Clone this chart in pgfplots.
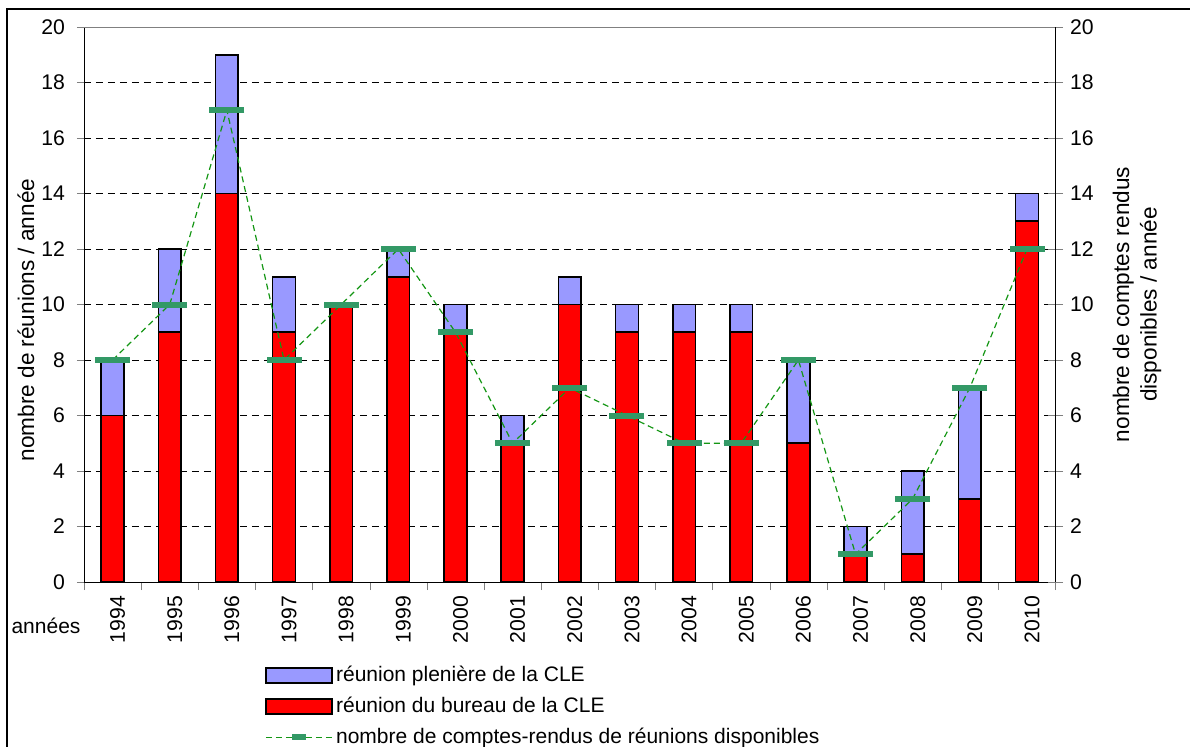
\documentclass[border=0pt]{standalone}
\usepackage{fontspec}
\setmainfont{Liberation Sans}
\usepackage{pgfplots}
\usepackage{pgfplotstable}
\pgfplotsset{compat=1.18}

\definecolor{pleniere}{RGB}{153,153,255}
\definecolor{bureau}{RGB}{255,0,0}
\definecolor{crline}{RGB}{20,150,20}
\definecolor{crmark}{RGB}{51,153,102}

% x = index of year (1994 = 0)
\pgfplotstableread{
x bureau pleniere cr
0  6  2  8
1  9  3  10
2  14 5  17
3  9  2  8
4  10 0  10
5  11 1  12
6  9  1  9
7  5  1  5
8  10 1  7
9  9  1  6
10 9  1  5
11 9  1  5
12 5  3  8
13 1  1  1
14 1  3  3
15 3  4  7
16 13 1  12
}\reunions

\pgfplotsset{
  common/.style={
    scale only axis, width=485.8pt, height=277.5pt,
    xmin=-0.5, xmax=16.5, ymin=0, ymax=20,
    ytick={0,2,...,20},
    /pgf/number format/assume math mode=true,
    tick label style={font=\fontsize{10.6}{12.6}\selectfont},
    label style={font=\fontsize{11.3}{13.8}\selectfont},
  },
}

\begin{document}
\begin{tikzpicture}[font=\fontsize{10.5}{12.6}\selectfont]
\useasboundingbox (-42pt,-82pt) rectangle (553pt,291pt);
\draw[line width=1pt] (-38.5pt,-90pt) -- (-38.5pt,286.5pt) -- (560pt,286.5pt);

\begin{axis}[common,
  ybar stacked, bar width=11.35pt,
  axis x line*=bottom, axis y line*=left,
  xtick={0,...,16},
  xticklabels={1994,1995,1996,1997,1998,1999,2000,2001,2002,2003,2004,2005,2006,2007,2008,2009,2010},
  xticklabel style={rotate=90, anchor=east, yshift=-2.5pt},
  yticklabel style={xshift=-2.5pt},
  major x tick style={draw=none},
  minor xtick={-0.5,0.5,...,16.5},
  minor tick length=4pt,
  xtick align=outside, ytick align=outside,
  major tick length=3.5pt,
  ymajorgrids,
  major grid style={black, line width=0.5pt, dash pattern=on 3.5pt off 2.5pt},
  ylabel={nombre de réunions / année},
  ylabel style={at={(axis description cs:-0.0597,0.472)}, anchor=center},
  legend cell align=left,
  legend style={draw=none, fill=none, inner sep=0pt, outer sep=0pt,
    at={(axis description cs:0.1863,-0.1405)}, anchor=north west,
    row sep=0pt,
    nodes={inner sep=1.75pt, text height=9pt, text depth=3pt},
    /tikz/every even column/.style={column sep=2.25pt},
    font=\fontsize{10.5}{12.6}\selectfont},
]
\addlegendimage{legend image code/.code={\draw[fill=pleniere,draw=black,line width=0.8pt] (0pt,-3.75pt) rectangle (33pt,3.75pt);}}
\addlegendentry{réunion plenière de la CLE}
\addlegendimage{legend image code/.code={\draw[fill=bureau,draw=black,line width=0.8pt] (0pt,-3.75pt) rectangle (33pt,3.75pt);}}
\addlegendentry{réunion du bureau de la CLE}
\addlegendimage{legend image code/.code={\draw[crline,line width=0.6pt,dash pattern=on 3pt off 2pt] (0pt,0pt) -- (33pt,0pt); \draw[crmark,line width=3pt] (13pt,0pt) -- (20pt,0pt);}}
\addlegendentry{nombre de comptes-rendus de réunions disponibles}

\addplot[forget plot, fill=bureau, draw=black, line width=0.8pt] table[x=x, y=bureau] {\reunions};
\addplot[forget plot, fill=pleniere, draw=black, line width=0.8pt] table[x=x, y=pleniere] {\reunions};
\draw[gray, line width=0.8pt] (rel axis cs:0,1) -- (rel axis cs:1,1);
\end{axis}

\begin{axis}[common,
  hide x axis,
  axis y line*=right,
  ytick align=center, major tick length=7.5pt,
  ylabel={nombre de comptes rendus\\disponibles / année},
  ylabel style={align=center, at={(axis description cs:1.0838,0.5)}, anchor=center},
]
\addplot[crline, line width=0.6pt, dash pattern=on 3pt off 2pt,
  mark=-, mark size=8.75pt, mark options={solid, draw=crmark, line width=3pt}]
  table[x=x, y=cr] {\reunions};
\end{axis}

\node at (-19pt,-22pt) {années};
\end{tikzpicture}
\end{document}
